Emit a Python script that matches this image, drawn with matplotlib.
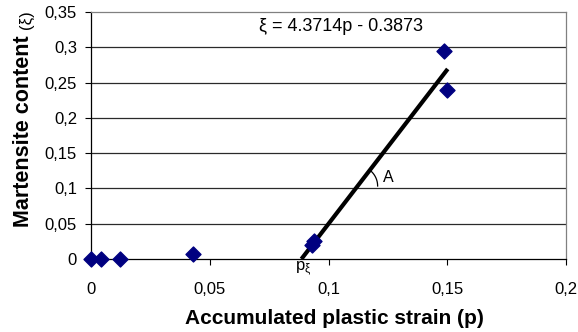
import numpy as np
import matplotlib
matplotlib.use("Agg")
import matplotlib.pyplot as plt

plt.rcParams['font.family'] = ['Liberation Sans', 'DejaVu Sans']
plt.rcParams['mathtext.fontset'] = 'custom'
plt.rcParams['mathtext.rm'] = 'Liberation Sans'
plt.rcParams['mathtext.it'] = 'Liberation Sans'

# data
p_vals = [0.0, 0.004, 0.012, 0.043, 0.093, 0.094, 0.1485, 0.1497]
xi_vals = [0.0, 0.0, 0.0, 0.007, 0.020, 0.025, 0.295, 0.240]
slope = 4.3714
intercept = -0.3873
fit_end = 0.1502
x_ticks = [0, 0.05, 0.1, 0.15, 0.2]
x_tick_labels = ['0', '0,05', '0,1', '0,15', '0,2']
y_ticks = [0, 0.05, 0.1, 0.15, 0.2, 0.25, 0.3, 0.35]
y_tick_labels = ['0', '0,05', '0,1', '0,15', '0,2', '0,25', '0,3', '0,35']

W, H = 578, 332
fig = plt.figure(figsize=(W/100, H/100), dpi=100)
ax = fig.add_axes([91/W, 1-259/H, (566-91)/W, (259-12)/H])
ax.set_xlim(0, 0.2)
ax.set_ylim(0, 0.35)

for y in y_ticks[1:-1]:
    ax.axhline(y, color='#2a2a2a', lw=0.9, zorder=1)

ax.spines['top'].set_color('#808080')
ax.spines['right'].set_color('#808080')
ax.spines['left'].set_color('black')
ax.spines['bottom'].set_color('black')
for s in ax.spines.values():
    s.set_linewidth(0.9)

ax.set_xticks(x_ticks)
ax.set_xticklabels(x_tick_labels)
ax.set_yticks(y_ticks)
ax.set_yticklabels(y_tick_labels)
ax.tick_params(direction='out', length=4, width=0.8, labelsize=12, pad=6)
ax.tick_params(axis='x', pad=12.5)

x0 = -intercept / slope
xf = np.array([x0, fit_end])
ax.plot(xf, slope * xf + intercept, color='black', lw=3, zorder=3, solid_capstyle='butt')

ax.scatter(p_vals, xi_vals, marker='D', s=58, color='#000080', zorder=4, clip_on=False)

ax.text(0.1051, 0.330, 'ξ = 4.3714p - 0.3873', fontsize=13, ha='center', va='center')
ax.text(0.1252, 0.1148, 'A', fontsize=11.5, ha='center', va='center')
ax.text(0.0893, -0.0135, r'p$_\mathrm{ξ}$', fontsize=12, ha='center', va='center', clip_on=False)

# angle arc
fig.canvas.draw()
tr = ax.transData
yc = (259 - 186) / 247 * 0.35
xc = (yc - intercept) / slope
cx, cy = tr.transform((xc, yc))
ex, ey = tr.transform((fit_end, slope*fit_end+intercept))
ang = np.degrees(np.arctan2(ey - cy, ex - cx))
t = np.radians(np.linspace(0, ang, 40))
r = 20
pts = np.column_stack([cx + r*np.cos(t), cy + r*np.sin(t)])
dpts = tr.inverted().transform(pts)
ax.plot(dpts[:, 0], dpts[:, 1], color='black', lw=0.9, zorder=3)

fig.text(334/W, 1-319/H, 'Accumulated plastic strain (p)', fontsize=15, fontweight='bold',
         ha='center', va='center')
fig.text(24/W, 1-131/H, 'Martensite content', fontsize=15.5, fontweight='bold',
         ha='center', va='center', rotation=90)
fig.text(26/W, 1-20/H, '(ξ)', fontsize=12, ha='center', va='center', rotation=90)

fig.savefig('out.png', dpi=100)
